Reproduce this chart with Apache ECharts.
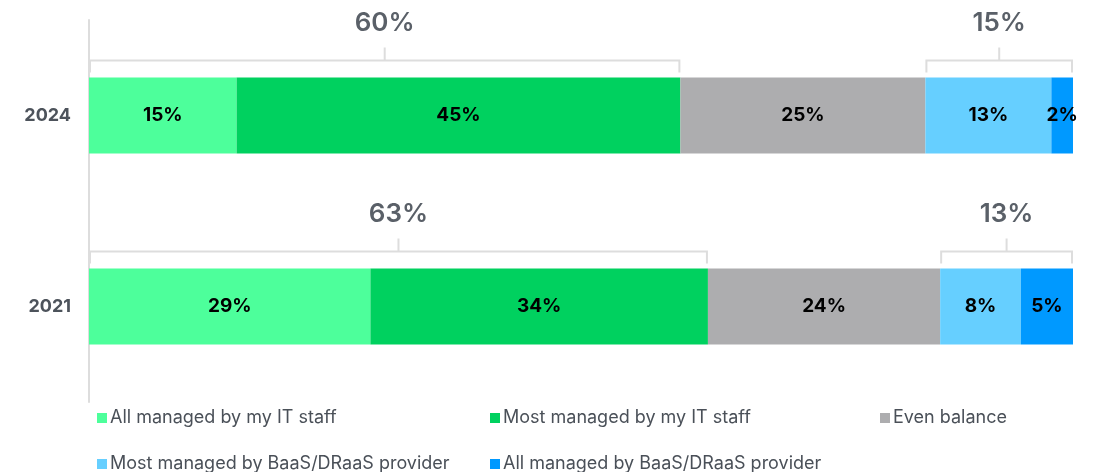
<!DOCTYPE html>
<html>
<head>
<meta charset="utf-8">
<script src="https://cdn.jsdelivr.net/npm/echarts@6/dist/echarts.min.js"></script>
<style>
  html, body { margin: 0; padding: 0; background: #fff; }
  #chart { width: 1094px; height: 472px; }
</style>
</head>
<body>
<div id="chart"></div>
<script>
// 数据
const categories = ['2024', '2021'];
const seriesNames = [
  'All managed by my IT staff',
  'Most managed by my IT staff',
  'Even balance',
  'Most managed by BaaS/DRaaS provider',
  'All managed by BaaS/DRaaS provider'
];
// widths, labels are the rounded values
const allMyStaff = [15.0, 28.6];
const mostMyStaff = [45.1, 34.3];
const evenBalance = [24.9, 23.6];
const mostProvider = [12.8, 8.2];
const allProvider = [2.2, 5.3];
// bracket totals as printed
const staffTotals = [60, 63];
const providerTotals = [15, 13];

const colors = ['#4dff9b', '#00d15f', '#adadaf', '#66cfff', '#0099ff'];
const values = [allMyStaff, mostMyStaff, evenBalance, mostProvider, allProvider];
const font = 'Inter';

let chart = echarts.init(document.getElementById('chart'));

// 括号数据: [category, start, end, label]
let brackets = [];
categories.forEach((c, i) => {
  brackets.push([i, 0, allMyStaff[i] + mostMyStaff[i], staffTotals[i]]);
  let s = allMyStaff[i] + mostMyStaff[i] + evenBalance[i];
  brackets.push([i, s, s + mostProvider[i] + allProvider[i], providerTotals[i]]);
});

function renderBracket(params, api) {
  let cat = api.value(0);
  let p0 = api.coord([api.value(1), cat]);
  let p1 = api.coord([api.value(2), cat]);
  let x0 = p0[0] + 1, x1 = p1[0] - 1;
  let xm = (x0 + x1) / 2;
  let yb = p0[1] - 38 - 17;
  let line = { stroke: '#dddddd', lineWidth: 2, fill: null };
  return {
    type: 'group',
    children: [
      { type: 'polyline', shape: { points: [[x0, yb + 12], [x0, yb], [x1, yb], [x1, yb + 12]] }, style: line },
      { type: 'line', shape: { x1: xm, y1: yb, x2: xm, y2: yb - 13 }, style: line },
      {
        type: 'text',
        style: {
          x: xm, y: yb - 37, text: api.value(3) + '%',
          align: 'center', verticalAlign: 'middle',
          fill: '#5a6068', font: '600 26px ' + font
        }
      }
    ]
  };
}

let series = seriesNames.map((name, k) => ({
  name: name,
  type: 'bar',
  stack: 'total',
  barWidth: 76,
  itemStyle: { color: colors[k] },
  label: {
    show: true,
    position: 'inside',
    color: '#000',
    fontFamily: font,
    fontWeight: 'bold',
    fontSize: 19,
    formatter: p => Math.round(p.value) + '%'
  },
  data: values[k]
}));
series.push({
  type: 'custom',
  renderItem: renderBracket,
  clip: false,
  silent: true,
  encode: { x: [1, 2], y: 0 },
  data: brackets,
  z: 5
});

const legendPos = [[92, 404], [485, 404], [875, 404], [92, 450], [485, 450]];

let option = {
  animation: false,
  textStyle: { fontFamily: font },
  legend: seriesNames.map((n, k) => ({
    data: [n],
    left: legendPos[k][0],
    top: legendPos[k][1],
    icon: 'rect',
    itemWidth: 10,
    itemHeight: 10,
    itemGap: 5,
    textStyle: { color: '#4a5058', fontSize: 18, fontFamily: font, padding: [0, 0, 0, -2] }
  })),
  grid: { left: 89, right: 21, top: 20, height: 382 },
  xAxis: { type: 'value', min: 0, max: 100, show: false },
  yAxis: {
    type: 'category',
    data: categories,
    inverse: true,
    axisLine: { lineStyle: { color: '#dddddd', width: 2 } },
    axisTick: { show: false },
    axisLabel: { color: '#4d535b', fontWeight: 'bold', fontSize: 18, margin: 18, fontFamily: font }
  },
  series: series
};
chart.setOption(option);
</script>
</body>
</html>
